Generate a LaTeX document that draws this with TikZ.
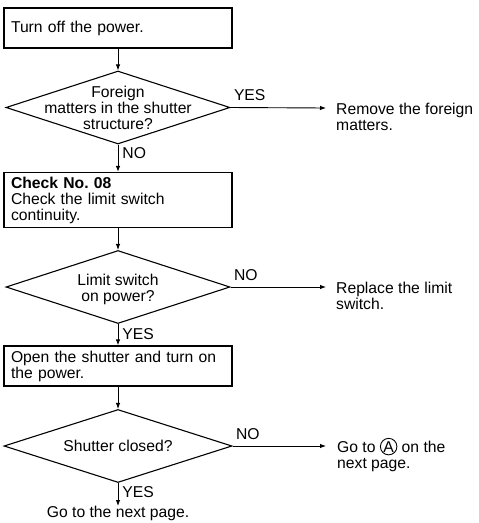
\documentclass[tikz,border=0pt]{standalone}
\usepackage{fontspec}
\setmainfont{Liberation Sans}
\usetikzlibrary{shapes.geometric,arrows.meta}
\frenchspacing
\newcommand\circledA{\tikz[baseline=(ca.base)]\node[draw,circle,minimum size=16.5pt,inner sep=0pt,line width=0.9pt](ca){A};}
\begin{document}
\begin{tikzpicture}[x=1pt,y=-1pt,
  font=\fontsize{15.7}{16}\selectfont,
  stepbox/.style={draw,line width=1.2pt,rectangle,minimum width=228pt,
    text width=214pt,inner xsep=7pt,inner ysep=0pt,align=left},
  decision/.style={draw,line width=1.1pt,diamond,inner sep=0pt,
    minimum width=#1,minimum height=73pt},
  flow/.style={line width=0.9pt,-{Latex[length=6pt,width=4.5pt]}},
  note/.style={align=left,inner sep=0pt,anchor=base west},
  tag/.style={inner sep=0pt}]
\useasboundingbox (0,0) rectangle (479,523);

% main column
\node[stepbox,minimum height=40pt] (b1) at (118,28) {Turn off the power.};
\node[decision=224pt,label={[align=center]center:{Foreign\\matters in the shutter\\structure?}}] (d1) at (118,107.5) {};
\node[stepbox,minimum height=55pt] (b2) at (118,200) {\textbf{Check No. 08}\\Check the limit switch\\continuity.};
\node[decision=224pt,label={[align=center,yshift=-2pt]center:{Limit switch\\on power?}}] (d2) at (118,287) {};
\node[stepbox,minimum height=40pt] (b3) at (118,366) {Open the shutter and turn on\\the power.};
\node[decision=228pt,label={center:{Shutter closed?}}] (d3) at (118,446) {};
\node[tag,anchor=north] (nxt) at (118,506) {Go to the next page.};

% side outcomes (anchored on the baseline of their last line)
\node[note] (r1) at (336,130) {Remove the foreign\\matters.};
\node[note] (r2) at (336,309) {Replace the limit\\switch.};
\node[note] (r3) at (337,468) {Go to \circledA{} on the\\next page.};
\coordinate (e1) at (326,108);
\coordinate (e2) at (326,287);
\coordinate (e3) at (326,446);

% connectors
\draw[flow] (b1.south) -- (d1.north);
\draw[flow] (d1.south) -- node[tag,pos=0.3,anchor=west,xshift=4pt]{NO} (b2.north);
\draw[flow] (b2.south) -- (d2.north);
\draw[flow] (d2.south) -- node[tag,pos=0.45,anchor=west,xshift=4pt]{YES} (b3.north);
\draw[flow] (b3.south) -- (d3.north);
\draw[flow] (d3.south) -- node[tag,pos=0.4,anchor=west,xshift=4pt]{YES} (nxt.north);

\draw[flow] (d1.east) -- node[tag,pos=0,anchor=south west,xshift=3pt,yshift=6pt]{YES} (e1);
\draw[flow] (d2.east) -- node[tag,pos=0,anchor=south west,xshift=3pt,yshift=6pt]{NO} (e2);
\draw[flow] (d3.east) -- node[tag,pos=0,anchor=south west,xshift=3pt,yshift=6pt]{NO} (e3);
\end{tikzpicture}
\end{document}
